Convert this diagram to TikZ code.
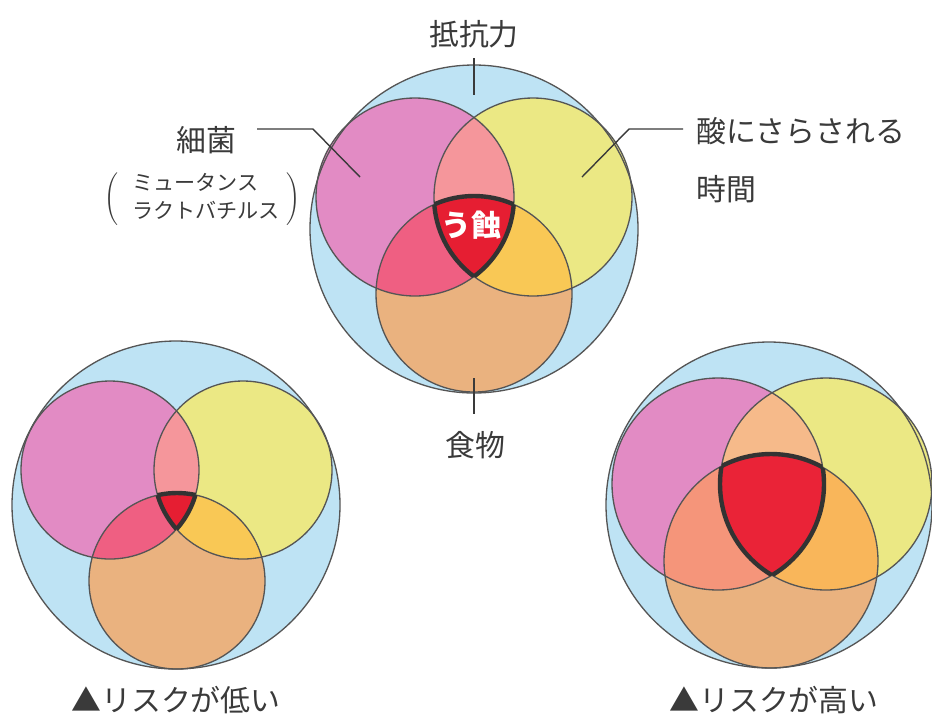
\documentclass[tikz,border=0pt]{standalone}
\usepackage{fontspec}
\setmainfont{Noto Sans CJK JP}
\definecolor{cblue}{HTML}{BEE3F4}
\definecolor{cpink}{HTML}{E28BC4}
\definecolor{cyel}{HTML}{EBE884}
\definecolor{corg}{HTML}{EAB27F}
\definecolor{outc}{HTML}{555555}
\definecolor{tric}{HTML}{333333}
\definecolor{txt}{HTML}{3A3A3A}
\newcommand{\lblfont}{\fontsize{17}{20}\selectfont}
\newcommand{\usofont}{\fontsize{17}{20}\selectfont\bfseries}
\newcommand{\subfont}{\fontsize{12}{16}\selectfont}
\tikzset{
  outl/.style={draw=outc, line width=0.75pt},
  tripl/.style={draw=tric, line width=2.5pt},
  leader/.style={draw=txt, line width=0.8pt},
  lbl/.style={inner sep=0pt, text=txt, font=\lblfont},
  usolbl/.style={inner sep=0pt, text=white, font=\usofont},
  sublbl/.style={inner sep=0pt, text=txt},
}
% #1 blue c, #2 blue r, #3 pink c, #4 pink r, #5 yellow c, #6 yellow r, #7 orange c, #8 orange r
\newcommand{\drawvenn}[8]{%
  \fill[cblue] #1 circle (#2);
  \fill[cpink] #3 circle (#4);
  \fill[cyel] #5 circle (#6);
  \fill[corg] #7 circle (#8);
  \begin{scope}\clip #3 circle (#4); \fill[cpy] #5 circle (#6); \end{scope}
  \begin{scope}\clip #3 circle (#4); \fill[cpo] #7 circle (#8); \end{scope}
  \begin{scope}\clip #5 circle (#6); \fill[cyo] #7 circle (#8); \end{scope}
  \begin{scope}\clip #3 circle (#4); \clip #5 circle (#6); \fill[cpyo] #7 circle (#8); \end{scope}
  \draw[outl] #1 circle (#2);
  \draw[outl] #3 circle (#4);
  \draw[outl] #5 circle (#6);
  \draw[outl] #7 circle (#8);
  \begin{scope}\clip #3 circle (#4); \clip #5 circle (#6); \draw[tripl] #7 circle (#8); \end{scope}
  \begin{scope}\clip #3 circle (#4); \clip #7 circle (#8); \draw[tripl] #5 circle (#6); \end{scope}
  \begin{scope}\clip #5 circle (#6); \clip #7 circle (#8); \draw[tripl] #3 circle (#4); \end{scope}
}
\begin{document}
\begin{tikzpicture}[x=0.02cm, y=-0.02cm]
\useasboundingbox (0,0) rectangle (932,718);
\fill[white] (0,0) rectangle (932,718);

% top diagram
\definecolor{cpy}{HTML}{F5969B}
\definecolor{cpo}{HTML}{EF5F82}
\definecolor{cyo}{HTML}{F9C855}
\definecolor{cpyo}{HTML}{E61E32}
\drawvenn{(474,229)}{164}{(415,197)}{99}{(533,197)}{99}{(474,294)}{98}
\node[usolbl] (uso) at (471,225) {う蝕};

% bottom-left
\drawvenn{(176,505)}{164}{(110,470)}{89}{(243,470)}{89}{(177,581)}{88}

% bottom-right
\definecolor{cpy}{HTML}{F6BA8A}
\definecolor{cpo}{HTML}{F5957A}
\definecolor{cyo}{HTML}{F9B65A}
\definecolor{cpyo}{HTML}{EA2337}
\drawvenn{(769,505)}{163}{(718,484)}{106}{(826,484)}{106}{(771,561)}{107}

% labels
\node[lbl] (teiko) at (474,34) {抵抗力};
\coordinate (tk1) at (474,58);
\coordinate (tk2) at (474,95);
\draw[leader] (tk1) -- (tk2);

\node[lbl] (food) at (475,445) {食物};
\coordinate (fk1) at (474,378);
\coordinate (fk2) at (474,414);
\draw[leader] (fk1) -- (fk2);

\node[lbl] (saikin) at (206,140) {細菌};
\coordinate (sl1) at (257,129);
\coordinate (sl2) at (313,129);
\coordinate (sl3) at (360,177);
\draw[leader] (sl1) -- (sl2) -- (sl3);

\node[lbl, anchor=west] (san) at (696,131) {酸にさらされる};
\node[lbl, anchor=west] (jikan) at (696,189) {時間};
\coordinate (rl1) at (683,129);
\coordinate (rl2) at (629,129);
\coordinate (rl3) at (582,177);
\draw[leader] (rl1) -- (rl2) -- (rl3);

\node[sublbl, anchor=west] (sub) at (104,199) {$\left(\hspace{8pt}\vcenter{\hbox{\subfont\begin{tabular}{@{}l@{}}ミュータンス\\ラクトバチルス\end{tabular}}}\hspace{4pt}\right)$};

\node[lbl] (low) at (176,700) {▲リスクが低い};
\node[lbl] (high) at (774,700) {▲リスクが高い};
\end{tikzpicture}
\end{document}
